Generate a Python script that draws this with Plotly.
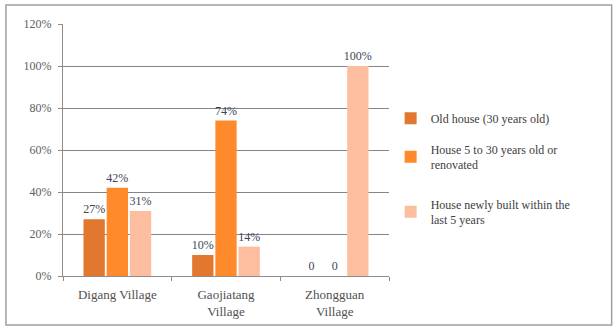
import plotly.graph_objects as go

villages = ["Digang Village", "Gaojiatang<br>Village", "Zhongguan<br>Village"]
series_names = [
    "Old house (30 years old)",
    "House 5 to 30 years old or<br>renovated",
    "House newly built within the<br>last 5 years",
]
old_house = [0.27, 0.10, 0.0]
mid_house = [0.42, 0.74, 0.0]
new_house = [0.31, 0.14, 1.00]
colors = ["#E2772F", "#FF8A2B", "#FDBE9F"]
legend_slots = ["legend", "legend", "legend2"]

SERIF = "Liberation Serif, serif"


def labels(vals):
    return ["0" if v == 0 else f"{round(v * 100)}%" for v in vals]


fig = go.Figure()
for i, (name, vals) in enumerate(zip(series_names, [old_house, mid_house, new_house])):
    fig.add_trace(go.Bar(
        x=villages, y=vals, name=name,
        marker=dict(color=colors[i], line=dict(width=0)),
        text=labels(vals), textposition="outside", cliponaxis=False,
        constraintext="none",
        textfont=dict(family=SERIF, size=12, color="#3B4756"),
        legendgroup=f"g{i}", legend=legend_slots[i],
    ))

legend_style = dict(
    xanchor="left", yanchor="top",
    font=dict(family=SERIF, size=12, color="#404040"),
    traceorder="grouped", tracegroupgap=12,
    itemwidth=30, bgcolor="rgba(0,0,0,0)",
)

fig.update_layout(
    width=614, height=329,
    margin=dict(l=63, r=225, t=24, b=53, autoexpand=False),
    paper_bgcolor="white", plot_bgcolor="white",
    barmode="group", bargap=0.36, bargroupgap=0.08,
    font=dict(family=SERIF, size=12, color="#505050"),
    showlegend=True,
    legend=dict(x=1.005, y=0.684, **legend_style),
    legend2=dict(x=1.005, y=0.343, **legend_style),
    xaxis=dict(
        automargin=False,
        showline=True, linecolor="#8C8C8C", linewidth=1,
        ticks="outside", tickson="boundaries", ticklen=4, tickcolor="#8C8C8C",
        ticklabelstandoff=6,
        tickfont=dict(family=SERIF, size=13, color="#505050"),
    ),
    yaxis=dict(
        automargin=False,
        range=[0, 1.2], dtick=0.2, tickformat=".0%",
        showgrid=True, gridcolor="#858585", gridwidth=1,
        showline=True, linecolor="#8C8C8C", linewidth=1,
        ticks="outside", ticklen=4, tickcolor="#8C8C8C",
        ticklabelstandoff=4,
        zeroline=False,
        tickfont=dict(family=SERIF, size=12, color="#606060"),
    ),
)

# outer frame around the whole chart
fig.add_shape(
    type="rect", xref="paper", yref="paper",
    x0=-0.175, x1=1.683, y0=-0.194, y1=1.075,
    line=dict(color="#A0A0A0", width=1.5), fillcolor="rgba(0,0,0,0)",
)

fig.write_html("out.html")
